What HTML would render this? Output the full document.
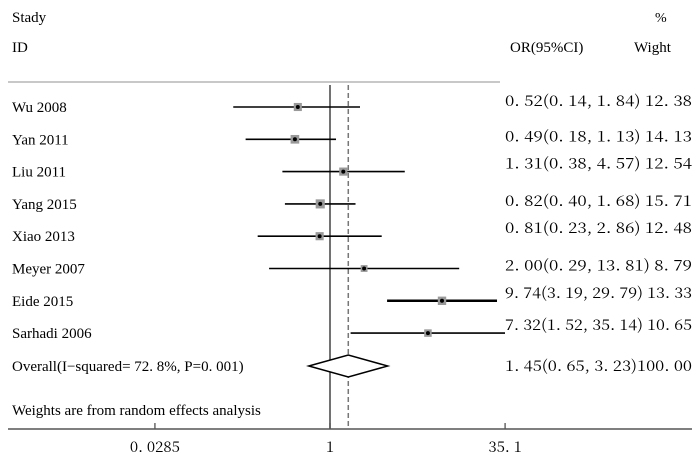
<!DOCTYPE html>
<html><head><meta charset="utf-8"><style>
body{margin:0;background:#fff}
svg{display:block;font-family:"Liberation Serif","Noto Serif CJK SC",serif}
.num{font-family:"Noto Serif CJK SC","Liberation Serif",serif}
</style></head><body>
<svg width="700" height="460">
<line x1="8" y1="82" x2="500" y2="82" stroke="#c8c8c8" stroke-width="2"/>
<text x="12" y="22" font-size="15">Stady</text>
<text x="12" y="52" font-size="15">ID</text>
<text x="510" y="52" font-size="15">OR(95%CI)</text>
<text x="655" y="22" font-size="14">%</text>
<text x="634" y="52" font-size="15">Wight</text>
<g id="plot"></g>
<line x1="8" y1="429" x2="692" y2="429" stroke="#555" stroke-width="1.5"/>
<text x="12" y="415" font-size="15">Weights are from random effects analysis</text>
</svg>
<script>
const studies=["Wu  2008","Yan 2011","Liu  2011","Yang 2015","Xiao  2013","Meyer 2007","Eide 2015","Sarhadi 2006"];
const orVals=[0.52,0.49,1.31,0.82,0.81,2.00,9.74,7.32];
const loVals=[0.14,0.18,0.38,0.40,0.23,0.29,3.19,1.52];
const hiVals=[1.84,1.13,4.57,1.68,2.86,13.81,29.79,35.14];
const weights=[12.38,14.13,12.54,15.71,12.48,8.79,13.33,10.65];
const overall=[1.45,0.65,3.23,100.00];
const ticks=[0.0285,1,35.1];
const tickLabels=["0. 0285","1","35. 1"];
const NS="http://www.w3.org/2000/svg";
const g=document.getElementById('plot');
const xs=v=>330+113.3*Math.log10(v);
const rowY=i=>107+i*32.3;
const fmt=v=>v.toFixed(2).replace('.','. ');
function mk(t,a){const e=document.createElementNS(NS,t);for(const k in a)e.setAttribute(k,a[k]);g.appendChild(e);return e;}
const ov=mk('line',{x1:xs(1),y1:85,x2:xs(1),y2:429,stroke:'#444','stroke-width':1.5});


const dl=mk('line',{x1:xs(overall[0]),y1:85,x2:xs(overall[0]),y2:429,stroke:'#777','stroke-width':1.5,'stroke-dasharray':'5,3'});


studies.forEach((s,i)=>{
  const y=rowY(i);
  const lab=mk('text',{x:12,y:y+5,'font-size':15});lab.textContent=s;
  
  
  const ci=mk('line',{x1:xs(loVals[i]),y1:y,x2:Math.min(xs(hiVals[i]),505),y2:y,stroke:'#000','stroke-width':i==6?2.5:1.6});
  
  
  const sz=Math.sqrt(weights[i])*2.3;
  const b=mk('rect',{x:xs(orVals[i])-sz/2,y:y-sz/2,width:sz,height:sz,fill:'#999'});
  
  
  const d=mk('circle',{cx:xs(orVals[i]),cy:y,r:2,fill:'#000'});
  
  
  const t=mk('text',{class:'num',x:505,y:y+(i==0?-1:i==2||i==4||i==6||i==7?-3:2),'font-size':15,textLength:187,lengthAdjust:'spacingAndGlyphs'});
  t.textContent=fmt(orVals[i])+"("+fmt(loVals[i])+", "+fmt(hiVals[i])+") "+fmt(weights[i]);
  
  
});
const oy=366;
const lab=mk('text',{x:12,y:oy+5,'font-size':15});lab.textContent="Overall(I−squared= 72. 8%, P=0. 001)";


const dm=mk('polygon',{points:`${xs(overall[1])},${oy} ${xs(overall[0])},${oy-11} ${xs(overall[2])},${oy} ${xs(overall[0])},${oy+11}`,fill:'#fff',stroke:'#000','stroke-width':1.5});


const ot=mk('text',{class:'num',x:505,y:oy+5,'font-size':15,textLength:187,lengthAdjust:'spacingAndGlyphs'});
ot.textContent=fmt(overall[0])+"("+fmt(overall[1])+", "+fmt(overall[2])+")"+fmt(overall[3]);


ticks.forEach((v,i)=>{
  const tk=mk('line',{x1:xs(v),y1:423,x2:xs(v),y2:429,stroke:'#444','stroke-width':1.2});
  
  
  const tl=mk('text',{class:'num',x:xs(v),y:452,'font-size':15,'text-anchor':'middle'});tl.textContent=tickLabels[i];
  
  
});
</script>
</body></html>
